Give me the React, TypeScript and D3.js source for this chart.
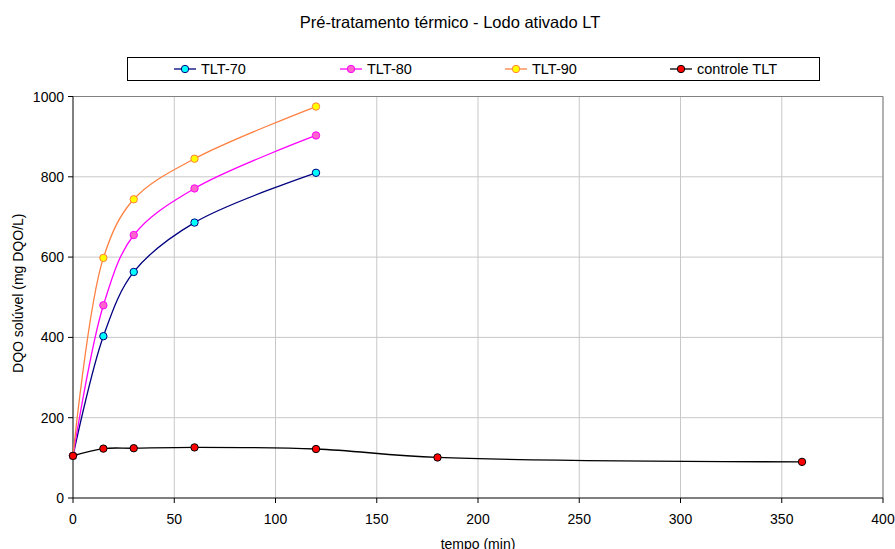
import React from "react";
import * as d3 from "d3";

const xTicks = [0, 50, 100, 150, 200, 250, 300, 350, 400];
const yTicks = [0, 200, 400, 600, 800, 1000];

const tlt70X = [0, 15, 30, 60, 120];
const tlt70Y = [105, 403, 563, 686, 810];
const tlt80X = [0, 15, 30, 60, 120];
const tlt80Y = [105, 480, 655, 771, 903];
const tlt90X = [0, 15, 30, 60, 120];
const tlt90Y = [105, 598, 744, 845, 975];
const ctrlX = [0, 15, 30, 60, 120, 180, 360];
const ctrlY = [105, 123, 124, 126, 122, 101, 90];

const seriesNames = ["TLT-70", "TLT-80", "TLT-90", "controle TLT"];

const series = [
  { name: seriesNames[0], xs: tlt70X, ys: tlt70Y, line: "#000080", fill: "#00ffff", stroke: "#000080" },
  { name: seriesNames[1], xs: tlt80X, ys: tlt80Y, line: "#ff00ff", fill: "#ff66cc", stroke: "#ff00ff" },
  { name: seriesNames[2], xs: tlt90X, ys: tlt90Y, line: "#ff8040", fill: "#ffff00", stroke: "#ff8040" },
  { name: seriesNames[3], xs: ctrlX, ys: ctrlY, line: "#000000", fill: "#ff0000", stroke: "#000000" },
];

const legendX = [174, 340, 505, 670];

export default function App() {
  const W = 895, H = 549;
  const left = 73, right = 883, top = 96.5, bottom = 498;
  const x = d3.scaleLinear().domain([0, 400]).range([left, right]);
  const y = d3.scaleLinear().domain([0, 1000]).range([bottom, top]);
  const font = "Liberation Sans, Arial, sans-serif";

  return (
    <svg width={W} height={H} style={{ position: "absolute", left: 0, top: 0 }} fontFamily={font}>
      <rect width={W} height={H} fill="#fff" />
      <text x={450} y={28} fontSize={16.5} textAnchor="middle">Pré-tratamento térmico - Lodo ativado LT</text>
      {/* grid */}
      {xTicks.slice(1).map((t) => (
        <line key={"gx" + t} x1={x(t)} x2={x(t)} y1={top} y2={bottom} stroke="#c8c8c8" strokeWidth={1} />
      ))}
      {yTicks.slice(1).map((t) => (
        <line key={"gy" + t} x1={left} x2={right} y1={y(t)} y2={y(t)} stroke="#c8c8c8" strokeWidth={1} />
      ))}
      <line x1={right} x2={right} y1={top} y2={bottom} stroke="#808080" />
      <line x1={left} x2={right} y1={top} y2={top} stroke="#808080" />
      {/* axes */}
      <line x1={left} x2={left} y1={top} y2={bottom} stroke="#000" />
      <line x1={left} x2={right} y1={bottom} y2={bottom} stroke="#000" />
      {yTicks.map((t) => (
        <g key={"ty" + t}>
          <line x1={left - 5} x2={left} y1={y(t)} y2={y(t)} stroke="#000" />
          <text x={left - 9} y={y(t) + 5} fontSize={14} textAnchor="end">{t}</text>
        </g>
      ))}
      {xTicks.map((t) => (
        <g key={"tx" + t}>
          <line x1={x(t)} x2={x(t)} y1={bottom} y2={bottom + 5} stroke="#000" />
          <text x={x(t)} y={bottom + 26} fontSize={14} textAnchor="middle">{t}</text>
        </g>
      ))}
      <text x={478} y={549} fontSize={14} textAnchor="middle">tempo (min)</text>
      <text transform={`translate(23, ${(top + bottom) / 2 - 4}) rotate(-90)`} fontSize={14} textAnchor="middle">DQO solúvel (mg DQO/L)</text>
      {/* series */}
      {series.map((s) => {
        const pts: [number, number][] = s.xs.map((v, i) => [x(v), y(s.ys[i])]);
        const path = d3.line().curve(d3.curveCatmullRom.alpha(0.5))(pts) || "";
        return (
          <g key={s.name}>
            <path d={path} fill="none" stroke={s.line} strokeWidth={1.3} />
            {pts.map((p, i) => (
              <circle key={i} cx={p[0]} cy={p[1]} r={3.7} fill={s.fill} stroke={s.stroke} strokeWidth={1} />
            ))}
          </g>
        );
      })}
      {/* legend */}
      <rect x={127.5} y={57.5} width={692} height={23} fill="#fff" stroke="#000" />
      {series.map((s, i) => (
        <g key={"lg" + i}>
          <line x1={legendX[i]} x2={legendX[i] + 22} y1={69} y2={69} stroke={s.line} strokeWidth={1.3} />
          <circle cx={legendX[i] + 11} cy={69} r={3.7} fill={s.fill} stroke={s.stroke} />
          <text x={legendX[i] + 27} y={74} fontSize={14.5}>{s.name}</text>
        </g>
      ))}
    </svg>
  );
}
